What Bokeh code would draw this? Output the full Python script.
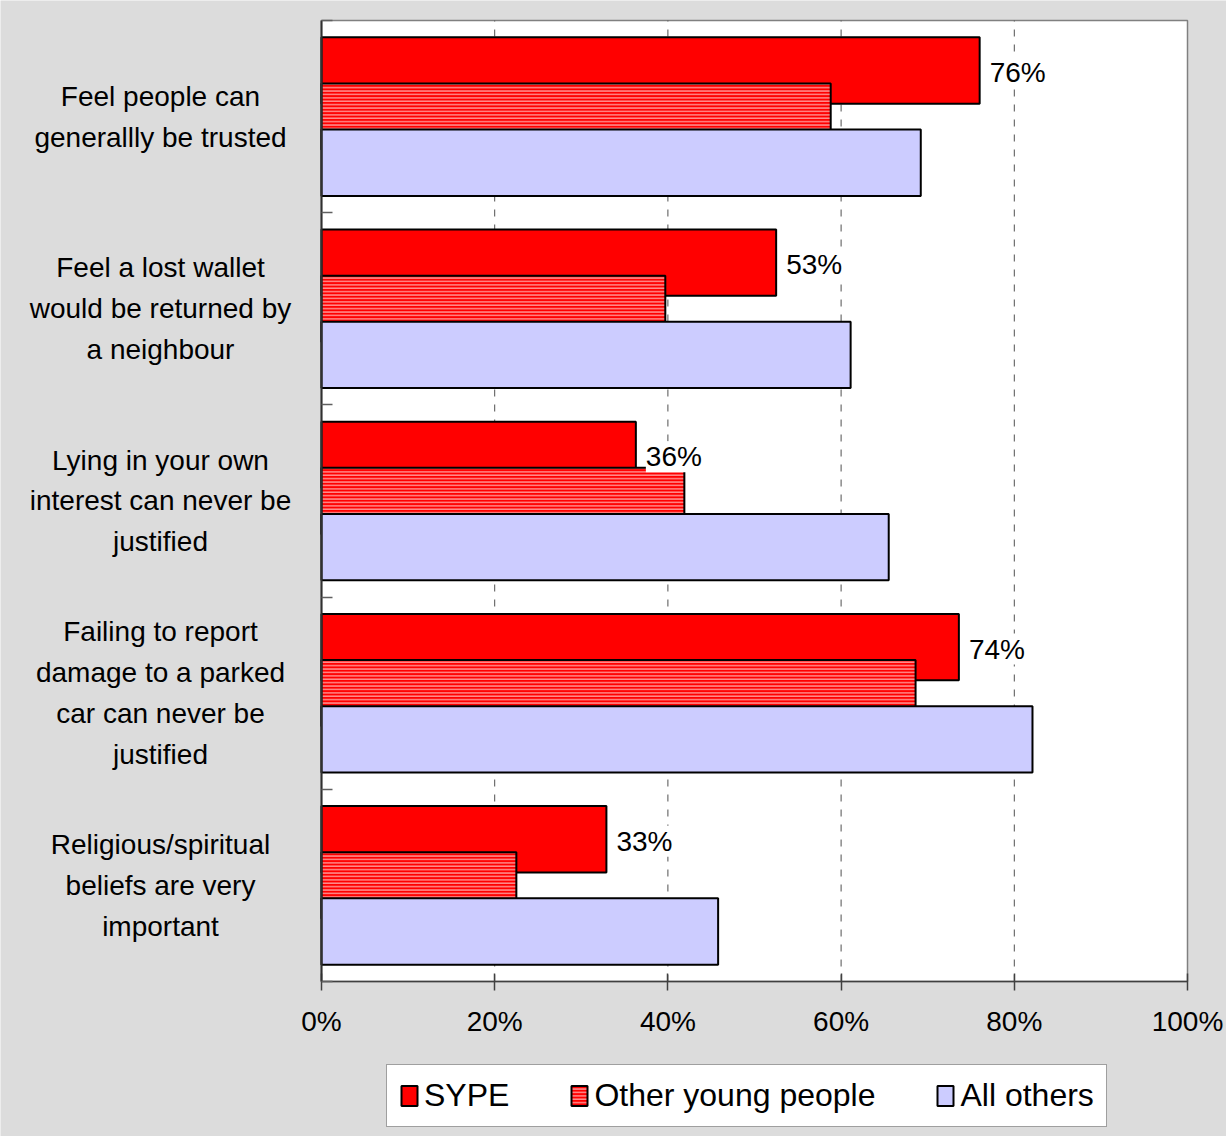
from bokeh.plotting import figure
from bokeh.models import ColumnDataSource, Range1d, FixedTicker, LabelSet, Legend, LegendItem, LinearAxis, Grid
from bokeh.embed import file_html
from bokeh.resources import INLINE
from bokeh.core.properties import value

# ---- data ----
categories = [
    "Feel people can\ngenerallly be trusted",
    "Feel a lost wallet\nwould be returned by\na neighbour",
    "Lying in your own\ninterest can never be\njustified",
    "Failing to report\ndamage to a parked\ncar can never be\njustified",
    "Religious/spiritual\nbeliefs are very\nimportant",
]
sype = [76.0, 52.5, 36.3, 73.6, 32.9]
other_young = [58.8, 39.7, 41.9, 68.6, 22.5]
all_others = [69.2, 61.1, 65.5, 82.1, 45.8]
sype_labels = ["76%", "53%", "36%", "74%", "33%"]
series_names = ["SYPE", "Other young people", "All others"]
x_ticks = [0, 20, 40, 60, 80, 100]
x_tick_labels = ["0%", "20%", "40%", "60%", "80%", "100%"]

FONT = "Liberation Sans"
BG = "#dcdcdc"
W, H = 1226, 1136
n = len(categories)
xmin, xmax = x_ticks[0], x_ticks[-1]

# layout of the plotting area inside the canvas (pixels)
PL, PR, PT, PB = 321, 1187, 20, 981
xs = (PR - PL) / (xmax - xmin)
ys = (PB - PT) / n
x_start = xmin - PL / xs
x_end = xmax + (W - PR) / xs
y_start = -(H - PB) / ys
y_end = n + PT / ys

centers = [n - 0.5 - i for i in range(n)]
off = 0.24
bar_h = 0.345

src = ColumnDataSource(dict(
    cat=categories, c=centers,
    y_sype=[c + off for c in centers],
    y_other=[c for c in centers],
    y_all=[c - off for c in centers],
    sype=sype, other=other_young, allo=all_others, lab=sype_labels,
))

p = figure(width=W, height=H, output_backend="svg", toolbar_location=None,
           x_range=Range1d(x_start, x_end), y_range=Range1d(y_start, y_end),
           x_axis_location=None, y_axis_location=None,
           min_border_left=0, min_border_right=0, min_border_top=0, min_border_bottom=0)
p.border_fill_color = BG
p.background_fill_color = BG
p.outline_line_color = None
for r in list(p.center):
    if isinstance(r, Grid):
        r.visible = False

# plot area
p.quad(left=xmin, right=xmax, bottom=0, top=n, fill_color="white",
       line_color="#808080", line_width=1.5)

# dashed gridlines
gx = x_ticks[1:-1]
p.segment(x0=gx, y0=[0] * len(gx), x1=gx, y1=[n] * len(gx),
          line_color="#505050", line_dash="7 8", line_width=1)

r1 = p.hbar(y="y_sype", left=0, right="sype", height=bar_h, source=src,
            fill_color="#ff0000", line_color="black", line_width=2)
r2 = p.hbar(y="y_other", left=0, right="other", height=bar_h, source=src,
            fill_color="#ff0000", line_color="black", line_width=2,
            hatch_pattern="horizontal_line", hatch_color="white", hatch_alpha=0.55,
            hatch_scale=3.4, hatch_weight=1.6)
r3 = p.hbar(y="y_all", left=0, right="allo", height=bar_h, source=src,
            fill_color="#ccccff", line_color="black", line_width=2)

# x axis
xa = LinearAxis(fixed_location=0, ticker=FixedTicker(ticks=x_ticks), bounds=(xmin, xmax))
xa.major_label_overrides = {t: l for t, l in zip(x_ticks, x_tick_labels)}
xa.major_label_text_font = FONT
xa.major_label_text_font_size = "28px"
xa.major_label_text_color = "black"
xa.major_label_standoff = 15
xa.major_tick_in = 8
xa.major_tick_out = 9
xa.minor_tick_line_color = None
xa.axis_line_color = "#404040"
xa.axis_line_width = 1.5
xa.major_tick_line_color = "#404040"
xa.major_tick_line_width = 1.5
p.add_layout(xa, "below")

# y axis (category boundaries only)
ya = LinearAxis(fixed_location=0, ticker=FixedTicker(ticks=list(range(n + 1))), bounds=(0, n))
ya.major_label_overrides = {i: "" for i in range(n + 1)}
ya.major_label_text_font_size = "1px"
ya.major_label_standoff = 0
ya.major_tick_in = 11
ya.major_tick_out = 0
ya.minor_tick_line_color = None
ya.axis_line_color = "#303030"
ya.axis_line_width = 2
ya.major_tick_line_color = "#606060"
ya.major_tick_line_width = 1.5
p.add_layout(ya, "left")

# category labels
p.text(x=xmin - 161 / xs, y="c", text="cat", source=src, text_align="center",
       text_baseline="middle", text_font=value(FONT), text_font_size=value("28px"),
       text_color="black", text_line_height=1.32)

# value labels
val_labels = LabelSet(x="sype", y="y_sype", text="lab", source=src,
                      x_offset=10, y_offset=-2, text_align="left", text_baseline="middle",
                      text_font=value(FONT), text_font_size="28px", text_color="black",
                      background_fill_color="white")
p.add_layout(val_labels)

legend = Legend(items=[LegendItem(label=series_names[0], renderers=[r1]),
                       LegendItem(label=series_names[1], renderers=[r2]),
                       LegendItem(label=series_names[2], renderers=[r3])],
                orientation="horizontal", location=(386, 9))
legend.label_text_font = FONT
legend.label_text_font_size = "32px"
legend.label_text_color = "black"
legend.glyph_width = 20
legend.glyph_height = 25
legend.label_standoff = 5
legend.spacing = 60
legend.padding = 12
legend.margin = 0
legend.border_line_color = "#404040"
legend.border_line_width = 1.5
legend.background_fill_color = "white"
legend.background_fill_alpha = 1.0
p.add_layout(legend)

open("out.html", "w").write(file_html(p, INLINE))
